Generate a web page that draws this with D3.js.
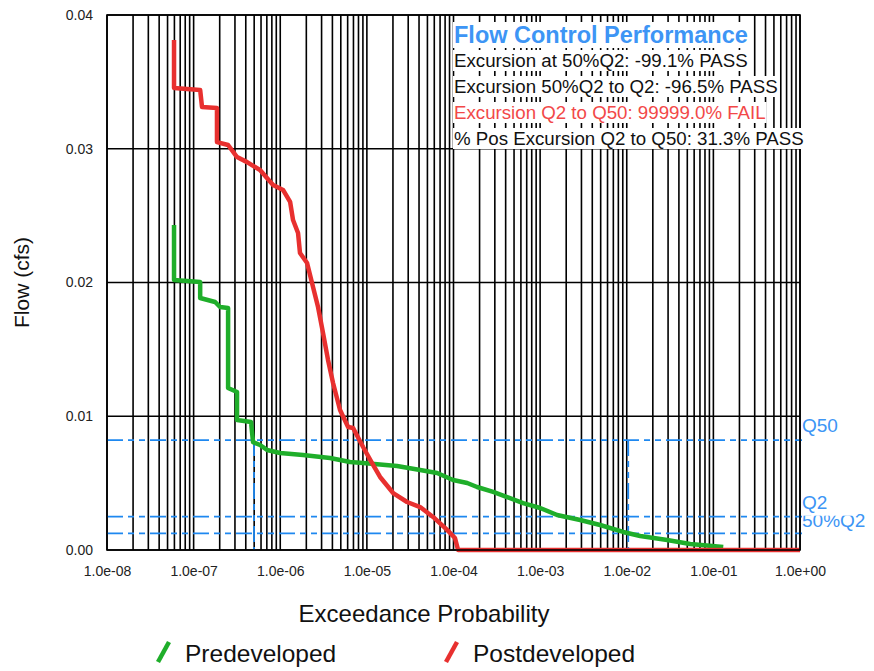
<!DOCTYPE html>
<html>
<head>
<meta charset="utf-8">
<script src="https://cdn.jsdelivr.net/npm/d3@7"></script>
<style>
  body { margin: 0; background: #fff; }
  text { font-family: "Liberation Sans", Arial, sans-serif; }
</style>
</head>
<body>
<div id="chart"></div>
<script>
// exceedance probability / flow pairs
var preProb = [5.94e-8, 5.94e-8, 1.19e-7, 1.19e-7, 1.77e-7, 2.02e-7, 2.5e-7, 2.5e-7, 3.17e-7, 3.17e-7,
    4.6e-7, 4.85e-7, 5.84e-7, 7.04e-7, 9.95e-7, 1.83e-6, 3.76e-6, 6.4e-6, 9.04e-6, 2.23e-5,
    4.12e-5, 6.47e-5, 9.89e-5, 1.44e-4, 1.87e-4, 2.87e-4, 4.16e-4, 6.36e-4, 1.0e-3, 1.57e-3,
    2.9e-3, 4.93e-3, 9.09e-3, 1.43e-2, 2.93e-2, 5.4e-2, 0.13];
var preFlow = [0.0243, 0.02019, 0.02004, 0.01884, 0.01854, 0.01817, 0.01809, 0.01211, 0.01181, 0.00972,
    0.00957, 0.00807, 0.00785, 0.00748, 0.00725, 0.0071, 0.00688, 0.00658, 0.0065, 0.00628,
    0.00598, 0.00576, 0.00523, 0.00501, 0.00471, 0.00434, 0.00396, 0.00351, 0.00314, 0.00262,
    0.00224, 0.00187, 0.00135, 0.00105, 0.00075, 0.00045, 0.00022];

var postProb = [5.94e-8, 5.94e-8, 1.19e-7, 1.25e-7, 1.86e-7, 1.86e-7, 2.5e-7, 3.17e-7, 4.14e-7, 5.84e-7,
    8.26e-7, 1.077e-6, 1.3e-6, 1.405e-6, 1.605e-6, 1.69e-6, 2.04e-6, 2.39e-6, 2.73e-6, 3.12e-6,
    3.56e-6, 4.07e-6, 4.9e-6, 6.07e-6, 6.93e-6, 9.04e-6, 1.148e-5, 1.42e-5, 2.01e-5, 2.91e-5,
    4.12e-5, 5.81e-5, 8.44e-5, 1.04e-4, 1.13e-4, 1.0];
var postFlow = [0.03813, 0.03454, 0.03439, 0.03312, 0.03305, 0.0305, 0.03028, 0.02938, 0.029, 0.02841,
    0.02729, 0.02692, 0.02602, 0.02467, 0.0237, 0.02221, 0.02146, 0.01966, 0.01817, 0.01622,
    0.01421, 0.01249, 0.01047, 0.0092, 0.00912, 0.0077, 0.0065, 0.00546, 0.00426, 0.00359,
    0.00321, 0.00247, 0.0015, 0.0009, 0, 0];

// flow thresholds
var qNames = ["Q50", "Q2", "50%Q2"];
var qFlows = [0.00822, 0.00249, 0.00124];
var qMarkProb = [4.98e-7, 1.04e-2];

var xTickValues = [1e-8, 1e-7, 1e-6, 1e-5, 1e-4, 1e-3, 1e-2, 1e-1, 1e0];
var xTickLabels = ["1.0e-08", "1.0e-07", "1.0e-06", "1.0e-05", "1.0e-04", "1.0e-03", "1.0e-02", "1.0e-01", "1.0e+00"];
var yTickValues = [0, 0.01, 0.02, 0.03, 0.04];
var yTickLabels = ["0.00", "0.01", "0.02", "0.03", "0.04"];

var infoTitle = "Flow Control Performance";
var infoLines = ["Excursion at 50%Q2: -99.1% PASS", "Excursion 50%Q2 to Q2: -96.5% PASS",
    "Excursion Q2 to Q50: 99999.0% FAIL", "% Pos Excursion Q2 to Q50: 31.3% PASS"];
var infoFail = [false, false, true, false];

var seriesNames = ["Predeveloped", "Postdeveloped"];
var seriesColors = ["#1fae2a", "#e8302f"];

var margin = {top: 15, right: 74, bottom: 121, left: 107},
    width = 874 - margin.left - margin.right,
    height = 671 - margin.top - margin.bottom;

var svg = d3.select("#chart")
  .append("svg")
    .attr("width", 874)
    .attr("height", 671)
  .append("g")
    .attr("transform", "translate(" + margin.left + "," + margin.top + ")");

var x = d3.scaleLog()
    .domain([1e-8, 1])
    .range([0, width]);
var y = d3.scaleLinear()
    .domain([0, 0.04])
    .range([height, 0]);

// vertical grid on every 1..9 multiple
svg.append("g")
  .selectAll("line")
  .data(x.ticks())
  .enter().append("line")
    .attr("x1", d => x(d)).attr("x2", d => x(d))
    .attr("y1", 0).attr("y2", height)
    .attr("stroke", "#000")
    .attr("stroke-width", 1.6);

// horizontal grid
svg.append("g")
  .selectAll("line")
  .data(yTickValues)
  .enter().append("line")
    .attr("x1", 0).attr("x2", width)
    .attr("y1", d => y(d)).attr("y2", d => y(d))
    .attr("stroke", "#000")
    .attr("stroke-width", 1.6);

// axes labels only
var xAxis = svg.append("g")
    .attr("transform", "translate(0," + height + ")")
    .call(d3.axisBottom(x).tickValues(xTickValues)
        .tickFormat((d, i) => xTickLabels[i]).tickSize(0).tickPadding(16));
var yAxis = svg.append("g")
    .call(d3.axisLeft(y).tickValues(yTickValues)
        .tickFormat((d, i) => yTickLabels[i]).tickSize(0).tickPadding(14));
[xAxis, yAxis].forEach(function(a) {
    a.select(".domain").remove();
    a.selectAll("text").style("font-size", "14px").attr("fill", "#222");
});

// threshold lines
var dash = "16,5,6,5,6,5";
var qBlue = "#1e88f0";
svg.append("g")
  .selectAll("line")
  .data(qFlows)
  .enter().append("line")
    .attr("x1", 0).attr("x2", width + 2)
    .attr("y1", d => y(d)).attr("y2", d => y(d))
    .attr("stroke", qBlue)
    .attr("stroke-width", 1.8)
    .attr("stroke-dasharray", dash);
svg.append("g")
  .selectAll("line")
  .data(qMarkProb)
  .enter().append("line")
    .attr("x1", d => x(d)).attr("x2", d => x(d))
    .attr("y1", y(qFlows[0])).attr("y2", height)
    .attr("stroke", qBlue)
    .attr("stroke-width", 1.8)
    .attr("stroke-dasharray", dash);

// curves
var line = d3.line()
    .x(d => x(d[0]))
    .y(d => y(d[1]));
var series = [d3.zip(preProb, preFlow), d3.zip(postProb, postFlow)];
svg.append("g")
  .selectAll("path")
  .data(series)
  .enter().append("path")
    .attr("d", line)
    .attr("fill", "none")
    .attr("stroke", (d, i) => seriesColors[i])
    .attr("stroke-width", 4.5)
    .attr("stroke-linejoin", "round");

// frame
svg.append("rect")
    .attr("width", width).attr("height", height)
    .attr("fill", "none")
    .attr("stroke", "#000")
    .attr("stroke-width", 1.6);

// threshold labels; the Q2 box hides the top of 50%Q2 like the original
var qLab = svg.append("g");
var qBase = [-8, -8, -6];
[2, 0, 1].forEach(function(i) {
    var g = qLab.append("g");
    var bg = g.append("rect").attr("fill", "#fff");
    var t = g.append("text")
        .attr("x", width + 2)
        .attr("y", y(qFlows[i]) + qBase[i])
        .attr("fill", "#3d95f5")
        .style("font-size", "19px")
        .text(qNames[i]);
    var b = t.node().getBBox();
    bg.attr("x", b.x).attr("y", b.y).attr("width", b.width + 30)
      .attr("height", i == 1 ? y(qFlows[i]) - b.y - 1 : b.height);
});

// performance box
var info = svg.append("g").attr("transform", "translate(" + (454 - margin.left) + ",0)");
function infoText(str, yy, size, color, bold) {
    var g = info.append("g");
    var bg = g.append("rect").attr("fill", "#fff");
    var t = g.append("text")
        .attr("x", 0).attr("y", yy)
        .attr("fill", color)
        .style("font-size", size + "px")
        .style("font-weight", bold ? "bold" : "normal")
        .text(str);
    var b = t.node().getBBox();
    bg.attr("x", b.x - 1).attr("y", b.y).attr("width", b.width + 2).attr("height", b.height);
}
infoText(infoTitle, 43 - margin.top, 23.5, "#3d95f5", true);
infoLines.forEach(function(s, i) {
    infoText(s, 67 - margin.top + i * 26, 18.7, infoFail[i] ? "#f24848" : "#111", false);
});

// axis titles
svg.append("text")
    .attr("transform", "translate(" + (-78) + "," + (height / 2) + ")rotate(-90)")
    .attr("text-anchor", "middle")
    .style("font-size", "21px")
    .attr("fill", "#111")
    .text("Flow (cfs)");
svg.append("text")
    .attr("x", 424 - margin.left)
    .attr("y", 622 - margin.top)
    .attr("text-anchor", "middle")
    .style("font-size", "24px")
    .attr("fill", "#111")
    .text("Exceedance Probability");

// legend
var legendX = [158, 446];
var legend = svg.selectAll(".legend")
    .data(seriesNames)
  .enter().append("g")
    .attr("class", "legend")
    .attr("transform", (d, i) => "translate(" + (legendX[i] - margin.left) + "," + (662 - margin.top) + ")");
legend.append("line")
    .attr("x1", 0).attr("y1", 0).attr("x2", 11).attr("y2", -20)
    .attr("stroke", (d, i) => seriesColors[i])
    .attr("stroke-width", 4.5);
legend.append("text")
    .attr("x", 27).attr("y", 0)
    .style("font-size", "24.5px")
    .attr("fill", "#111")
    .text(d => d);
</script>
</body>
</html>
